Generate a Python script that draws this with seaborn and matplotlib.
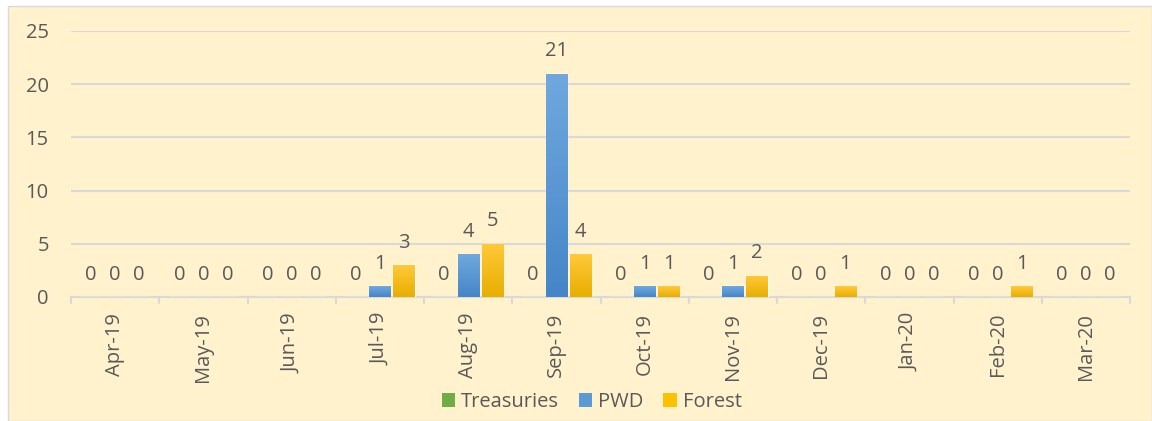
import matplotlib
matplotlib.use("Agg")
import matplotlib.pyplot as plt
from matplotlib.patches import Rectangle, Patch
from matplotlib.colors import LinearSegmentedColormap
import numpy as np
import seaborn as sns
import pandas as pd

months = ["Apr-19", "May-19", "Jun-19", "Jul-19", "Aug-19", "Sep-19",
          "Oct-19", "Nov-19", "Dec-19", "Jan-20", "Feb-20", "Mar-20"]
treasuries = [0, 0, 0, 0, 0, 0, 0, 0, 0, 0, 0, 0]
pwd = [0, 0, 0, 1, 4, 21, 1, 1, 0, 0, 0, 0]
forest = [0, 0, 0, 3, 5, 4, 1, 2, 1, 0, 1, 0]
series_names = ["Treasuries", "PWD", "Forest"]
colors = ["#70AD47", "#5B9BD5", "#FFC000"]
# top / bottom shades for the gradient fill of each series
shades = [("#7FC050", "#5E9B38"), ("#70A8DE", "#4586C8"), ("#FFC93A", "#E8AE00")]

df = pd.DataFrame({
    "Month": months * 3,
    "Series": [s for s in series_names for _ in months],
    "Count": treasuries + pwd + forest,
})

sns.set_theme(style="white")
plt.rcParams["font.family"] = ["Open Sans", "DejaVu Sans"]
text_color = "#595959"
bg = "#FFF2CC"
fs = 14.5

fig = plt.figure(figsize=(11.52, 4.21), dpi=100, facecolor="white")
# chart panel background
fig.patches.append(Rectangle((8 / 1152, 0), 1 - 8 / 1152, 1 - 6 / 421,
                             transform=fig.transFigure, facecolor=bg,
                             edgecolor="#D9D9D9", linewidth=1.0, zorder=-10))

ax = fig.add_axes([71 / 1152, 1 - 297 / 421, (1130 - 71) / 1152, (297 - 31) / 421])
ax.patch.set_alpha(0)

sns.barplot(data=df, x="Month", y="Count", hue="Series", order=months,
            hue_order=series_names, palette=colors, width=0.82, gap=0.12,
            saturation=1, ax=ax, legend=False, zorder=3)

ax.set_ylim(0, 25)
ax.set_xlim(-0.5, len(months) - 0.5)

# vertical gradient fill on each bar
grad = np.linspace(0, 1, 64).reshape(-1, 1)
for container, (top, bottom) in zip(ax.containers, shades):
    cmap = LinearSegmentedColormap.from_list("g", [bottom, top])
    for bar in container:
        h = bar.get_height()
        if h <= 0:
            continue
        x0 = bar.get_x()
        w = bar.get_width()
        im = ax.imshow(grad, cmap=cmap, aspect="auto", origin="lower",
                       extent=(x0, x0 + w, 0, h), zorder=3.5, interpolation="bilinear")
        im.set_clip_path(bar)

ax.set_ylim(0, 25)
ax.set_xlim(-0.5, len(months) - 0.5)
ax.set_yticks([0, 5, 10, 15, 20, 25])
ax.yaxis.grid(True, color="#D9D9D9", linewidth=1.5, zorder=0)
ax.set_axisbelow(True)
for side in ["top", "right", "left"]:
    ax.spines[side].set_visible(False)
ax.spines["bottom"].set_color("#D9D9D9")
ax.spines["bottom"].set_linewidth(1.5)
ax.set_xlabel("")
ax.set_ylabel("")

ax.tick_params(axis="y", length=0, labelsize=fs, labelcolor=text_color, pad=16)
ax.set_xticks(range(len(months)))
ax.set_xticklabels(months, rotation=90, fontsize=fs, color=text_color)
ax.tick_params(axis="x", length=0, pad=11.5)

# category boundary tick marks
for b in range(len(months) + 1):
    ax.plot([b - 0.5, b - 0.5], [0, -0.022], transform=ax.get_xaxis_transform(),
            color="#D9D9D9", linewidth=1.5, clip_on=False, zorder=2)

for container in ax.containers:
    ax.bar_label(container, fmt="%d", padding=9, fontsize=fs, color=text_color)

handles = [Patch(facecolor=c, edgecolor="none", label=n) for c, n in zip(colors, series_names)]
fig.legend(handles=handles, loc="center", bbox_to_anchor=(0.5135, 0.045), ncol=3,
           frameon=False, fontsize=fs, labelcolor=text_color, handlelength=0.65,
           handleheight=0.7, handletextpad=0.3, columnspacing=1.0)

fig.savefig("out.png", dpi=100, facecolor="white")
